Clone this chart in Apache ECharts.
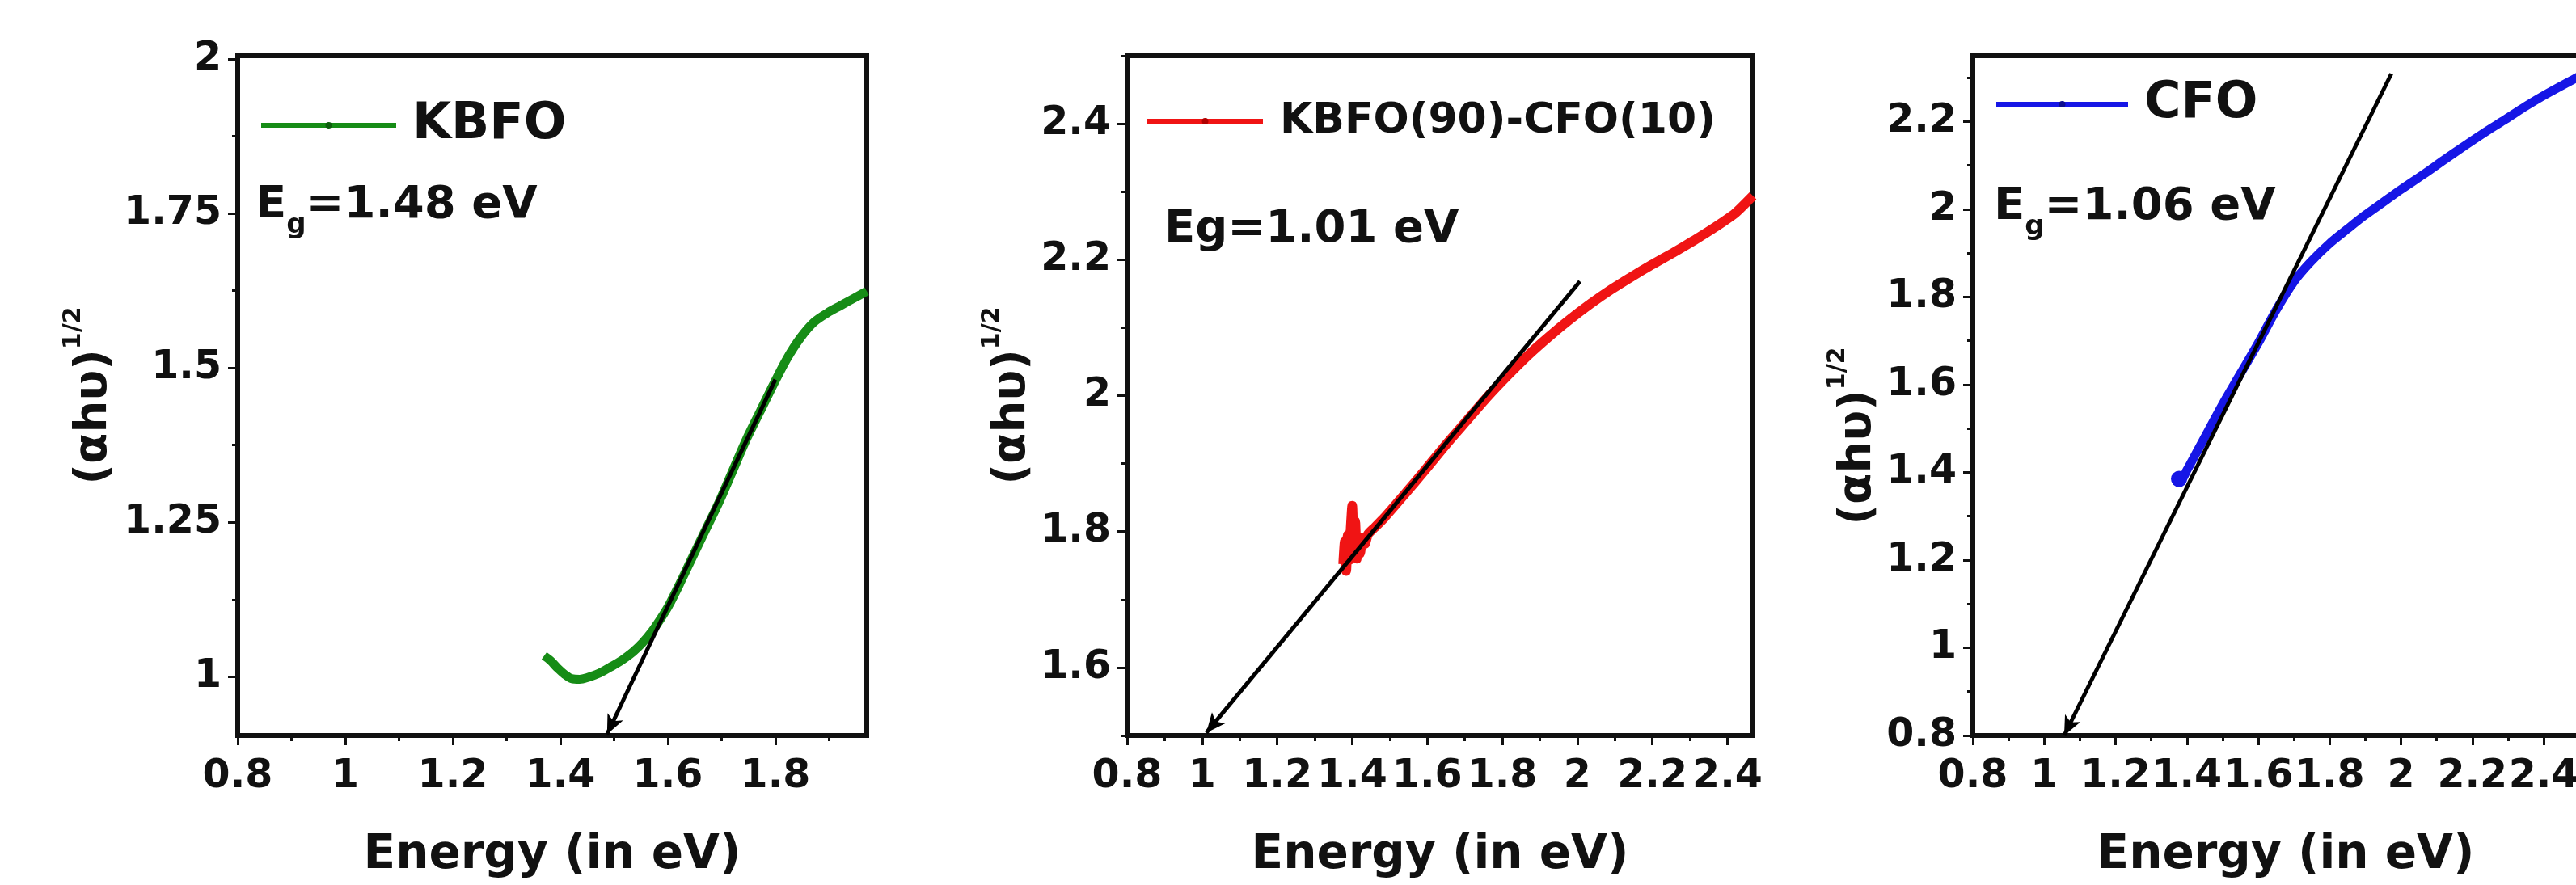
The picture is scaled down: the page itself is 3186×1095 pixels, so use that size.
<!DOCTYPE html>
<html>
<head>
<meta charset="utf-8">
<script src="https://cdn.jsdelivr.net/npm/echarts@6/dist/echarts.min.js"></script>
<style>html,body{margin:0;padding:0;background:#fff;}#c{width:3186px;height:1095px;}</style>
</head>
<body>
<div id="c"></div>
<script>
// ---------- data ----------
const kbfoE = [1.370, 1.382, 1.395, 1.408, 1.421, 1.436, 1.451, 1.473, 1.496, 1.515, 1.535, 1.553, 1.571, 1.586, 1.601, 1.623, 1.646, 1.671, 1.696, 1.721, 1.746, 1.772, 1.797, 1.821, 1.847, 1.872, 1.897, 1.922, 1.947, 1.970];
const kbfoY = [1.034, 1.026, 1.014, 1.004, 0.997, 0.996, 0.999, 1.006, 1.017, 1.027, 1.040, 1.055, 1.074, 1.093, 1.114, 1.152, 1.194, 1.239, 1.284, 1.334, 1.384, 1.430, 1.474, 1.514, 1.549, 1.574, 1.589, 1.601, 1.613, 1.624];
const kbfoFitE = [1.487, 1.800];
const kbfoFitY = [0.907, 1.481];

const mixE = [1.376, 1.380, 1.384, 1.388, 1.392, 1.396, 1.400, 1.404, 1.408, 1.412, 1.416, 1.421, 1.427, 1.434, 1.442, 1.460, 1.485, 1.540, 1.595, 1.650, 1.705, 1.760, 1.815, 1.870, 1.925, 1.980, 2.035, 2.090, 2.145, 2.200, 2.255, 2.310, 2.365, 2.420, 2.468];
const mixY = [1.752, 1.785, 1.742, 1.795, 1.758, 1.805, 1.838, 1.772, 1.815, 1.760, 1.792, 1.768, 1.790, 1.782, 1.796, 1.806, 1.820, 1.855, 1.891, 1.928, 1.963, 1.998, 2.030, 2.060, 2.087, 2.112, 2.135, 2.156, 2.175, 2.193, 2.210, 2.228, 2.247, 2.268, 2.294];
const mixFitE = [1.011, 2.007];
const mixFitY = [1.504, 2.168];

const cfoE = [1.378, 1.385, 1.400, 1.450, 1.500, 1.550, 1.600, 1.650, 1.700, 1.747, 1.800, 1.850, 1.900, 1.950, 2.000, 2.064, 2.120, 2.179, 2.240, 2.293, 2.350, 2.406, 2.483, 2.553];
const cfoY = [1.385, 1.385, 1.405, 1.480, 1.555, 1.625, 1.695, 1.770, 1.835, 1.880, 1.922, 1.955, 1.987, 2.016, 2.045, 2.080, 2.112, 2.145, 2.178, 2.205, 2.235, 2.262, 2.296, 2.325];
const cfoFitE = [1.056, 1.973];
const cfoFitY = [0.800, 2.309];

// tick values
const p1XTicks = [0.8, 1, 1.2, 1.4, 1.6, 1.8];
const p1XMinor = [0.9, 1.1, 1.3, 1.5, 1.7, 1.9];
const p1YTicks = [1, 1.25, 1.5, 1.75, 2];
const p1YMinor = [1.125, 1.375, 1.625, 1.875];
const p2XTicks = [0.8, 1, 1.2, 1.4, 1.6, 1.8, 2, 2.2, 2.4];
const p2XMinor = [0.9, 1.1, 1.3, 1.5, 1.7, 1.9, 2.1, 2.3];
const p2YTicks = [1.6, 1.8, 2, 2.2, 2.4];
const p2YMinor = [1.5, 1.7, 1.9, 2.1, 2.3, 2.5];
const p3XTicks = [0.8, 1, 1.2, 1.4, 1.6, 1.8, 2, 2.2, 2.4];
const p3XMinor = [0.9, 1.1, 1.3, 1.5, 1.7, 1.9, 2.1, 2.3, 2.5];
const p3YTicks = [0.8, 1, 1.2, 1.4, 1.6, 1.8, 2, 2.2];
const p3YMinor = [0.9, 1.1, 1.3, 1.5, 1.7, 1.9, 2.1, 2.3];

// ---------- styling/layout ----------
const FONT = 'DejaVu Sans';
const INK = '#111';
const FRAME = 6;
const TICKFS = 49;
const panels = [
  {grid: {left: 294, top: 69, width: 778, height: 841}, x: [0.8, 1.97], y: [0.905, 2.005],
   xt: p1XTicks, xm: p1XMinor, yt: p1YTicks, ym: p1YMinor, nameGap: 150, namePad: 0},
  {grid: {left: 1394, top: 69, width: 774, height: 841}, x: [0.8, 2.468], y: [1.5, 2.5],
   xt: p2XTicks, xm: p2XMinor, yt: p2YTicks, ym: p2YMinor, nameGap: 114, namePad: 0},
  {grid: {left: 2440, top: 69, width: 774, height: 841}, x: [0.8, 2.554], y: [0.8, 2.35],
   xt: p3XTicks, xm: p3XMinor, yt: p3YTicks, ym: p3YMinor, nameGap: 114, namePad: 100}
];

const grids = [], xAxes = [], yAxes = [];
panels.forEach((p, i) => {
  grids.push(Object.assign({show: true, borderColor: INK, borderWidth: FRAME, containLabel: false, outerBoundsMode: 'none'}, p.grid));
  xAxes.push({
    type: 'value', gridIndex: i, min: p.x[0], max: p.x[1], position: 'bottom',
    axisLine: {show: true, onZero: false, lineStyle: {color: INK, width: FRAME}},
    axisTick: {show: true, inside: false, length: 12, lineStyle: {color: INK, width: 3}, customValues: p.xt},
    axisLabel: {show: true, margin: 27, color: INK, fontFamily: FONT, fontWeight: 'bold', fontSize: TICKFS,
                customValues: p.xt, hideOverlap: false, showMinLabel: true, showMaxLabel: true},
    splitLine: {show: false},
    name: 'Energy (in eV)', nameLocation: 'middle', nameGap: 120, nameMoveOverlap: false,
    nameTextStyle: {color: INK, fontFamily: FONT, fontWeight: 'bold', fontSize: 58}
  });
  xAxes.push({
    type: 'value', gridIndex: i, min: p.x[0], max: p.x[1], position: 'bottom',
    axisLine: {show: false, onZero: false},
    axisTick: {show: true, inside: false, length: 7, lineStyle: {color: INK, width: 3}, customValues: p.xm},
    axisLabel: {show: false}, splitLine: {show: false}
  });
  yAxes.push({
    type: 'value', gridIndex: i, min: p.y[0], max: p.y[1], position: 'left',
    axisLine: {show: true, onZero: false, lineStyle: {color: INK, width: FRAME}},
    axisTick: {show: true, inside: false, length: 12, lineStyle: {color: INK, width: 3}, customValues: p.yt},
    axisLabel: {show: true, margin: 20, color: INK, fontFamily: FONT, fontWeight: 'bold', fontSize: TICKFS,
                customValues: p.yt, hideOverlap: false, showMinLabel: true, showMaxLabel: true},
    splitLine: {show: false},
    name: '{m|(αhυ)}{s|1/2}', nameLocation: 'middle', nameGap: p.nameGap, nameRotate: 90, nameMoveOverlap: false,
    nameTextStyle: {
      padding: [0, p.namePad, 0, 0],
      rich: {
        m: {fontFamily: FONT, fontWeight: 'bold', fontSize: 56, color: INK, verticalAlign: 'bottom', padding: [12, 0, 0, 0]},
        s: {fontFamily: FONT, fontWeight: 'bold', fontSize: 30, color: INK, verticalAlign: 'top', lineHeight: 30}
      }
    }
  });
  yAxes.push({
    type: 'value', gridIndex: i, min: p.y[0], max: p.y[1], position: 'left',
    axisLine: {show: false, onZero: false},
    axisTick: {show: true, inside: false, length: 7, lineStyle: {color: INK, width: 3}, customValues: p.ym},
    axisLabel: {show: false}, splitLine: {show: false}
  });
});

const zip = (a, b) => a.map((v, k) => [v, b[k]]);
function fitLine(E, Y) {
  return {
    silent: true, animation: false, symbol: ['arrow', 'none'], symbolSize: [16, 24],
    label: {show: false}, emphasis: {disabled: true},
    lineStyle: {color: '#000', width: 5, type: 'solid'},
    data: [[{coord: [E[0], Y[0]]}, {coord: [E[1], Y[1]]}]]
  };
}

const cfoData = zip(cfoE, cfoY).map((d, k) => k === 0 ? {value: d, symbol: 'circle', symbolSize: 20} : {value: d});

const series = [
  {name: 'KBFO', type: 'line', xAxisIndex: 0, yAxisIndex: 0, data: zip(kbfoE, kbfoY), smooth: 0.3,
   symbol: 'none', lineStyle: {color: '#168c16', width: 11}, itemStyle: {color: '#0d5e0d'}, z: 2,
   markLine: fitLine(kbfoFitE, kbfoFitY)},
  {name: 'KBFO(90)-CFO(10)', type: 'line', xAxisIndex: 2, yAxisIndex: 2, data: zip(mixE, mixY), smooth: 0.2,
   symbol: 'none', lineStyle: {color: '#f01414', width: 12}, itemStyle: {color: '#b00000'}, z: 2,
   markLine: fitLine(mixFitE, mixFitY)},
  {name: 'CFO', type: 'line', xAxisIndex: 4, yAxisIndex: 4, data: cfoData, smooth: 0.3,
   symbol: 'none', showSymbol: true, lineStyle: {color: '#1616e6', width: 11}, itemStyle: {color: '#1616e6'}, z: 2,
   markLine: fitLine(cfoFitE, cfoFitY)}
];

function legend(name, left, top, fs, gap, w, dot) {
  return {
    data: [name], left: left, top: top, orient: 'horizontal', padding: 0,
    itemWidth: w, itemHeight: 10, selectedMode: false,
    lineStyle: {width: 6},
    itemStyle: {color: dot},
    textStyle: {fontFamily: FONT, fontWeight: 'bold', fontSize: fs, color: INK, padding: [0, 0, 0, gap]}
  };
}

function egTitle(left, top, sub, value) {
  const text = sub ? '{b|E}{g|g}{b|=' + value + ' eV}' : '{b|Eg=' + value + ' eV}';
  return {
    text: text, left: left, top: top, padding: 0,
    textStyle: {
      rich: {
        b: {fontFamily: FONT, fontWeight: 'bold', fontSize: 56, color: INK, verticalAlign: 'top', padding: [0, 0, 14, 0]},
        g: {fontFamily: FONT, fontWeight: 'bold', fontSize: 34, color: INK, verticalAlign: 'bottom', lineHeight: 34}
      }
    }
  };
}

const option = {
  animation: false,
  backgroundColor: '#fff',
  grid: grids, xAxis: xAxes, yAxis: yAxes, series: series,
  legend: [
    legend('KBFO', 320, 124, 62, 15, 167, '#0d5e0d'),
    legend('KBFO(90)-CFO(10)', 1416, 124, 52, 16, 143, '#b00000'),
    legend('CFO', 2466, 98, 62, 15, 163, '#0d0d90')
  ],
  title: [
    egTitle(316, 226, true, '1.48'),
    egTitle(1440, 256, false, '1.01'),
    egTitle(2466, 228, true, '1.06')
  ]
};

const chart = echarts.init(document.getElementById('c'), null, {renderer: 'canvas'});
chart.setOption(option);
</script>
</body>
</html>
